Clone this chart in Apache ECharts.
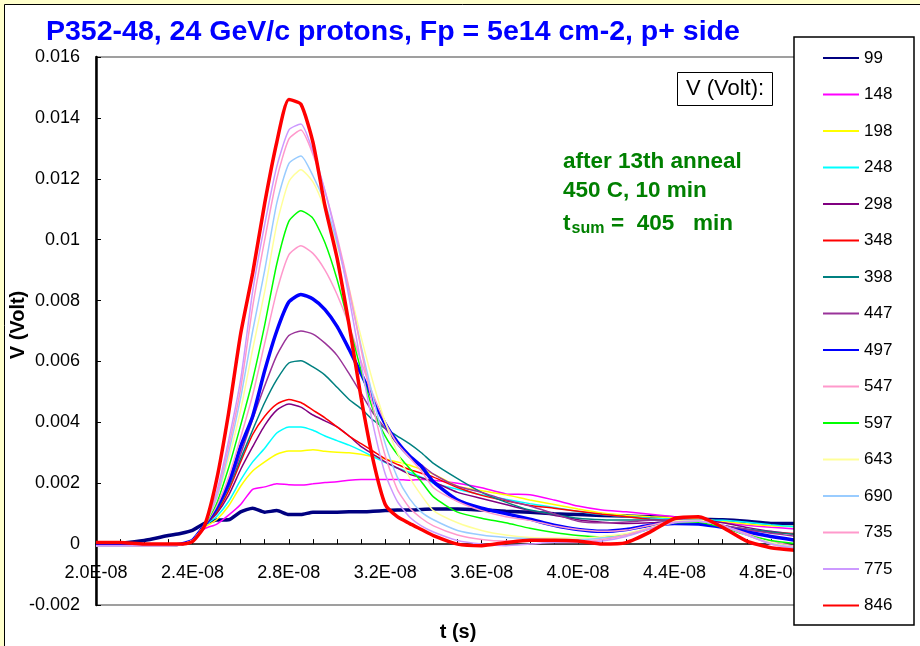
<!DOCTYPE html>
<html>
<head>
<meta charset="utf-8">
<script src="https://cdn.jsdelivr.net/npm/echarts@6/dist/echarts.min.js"></script>
<style>
html,body{margin:0;padding:0;background:#FFFFCC;}
#chart{width:920px;height:646px;}
</style>
</head>
<body>
<div id="chart"></div>
<script>
// time in ns (axis labels shown in seconds, e.g. 2.0E-08)
const timeNs = [20,21,22,23,23.5,24,24.5,25,25.5,26,26.5,27,27.5,28,28.5,29,29.5,30,30.5,31,31.5,32,32.5,33,33.5,34,35,36,37,38,39,40,41,42,43,44,45,46,47,48,49];

// legend labels (bias voltage)
const seriesNames = ['99','148','198','248','298','348','398','447','497','547','597','643','690','735','775','846'];

// signal values in mV (converted to V for the axis)
const v99  = [-0.03,0.03,0.12,0.28,0.35,0.45,0.68,0.79,0.8,1.06,1.18,1.05,1.1,0.97,0.97,1.05,1.05,1.05,1.06,1.06,1.08,1.1,1.12,1.12,1.14,1.15,1.15,1.12,1.08,1.05,1.0,0.97,0.94,0.92,0.9,0.87,0.82,0.8,0.75,0.68,0.68];
const v148 = [-0.05,-0.05,-0.05,-0.05,-0.03,0.1,0.5,0.65,0.95,1.3,1.8,1.88,1.98,1.95,1.94,1.98,2.02,2.05,2.1,2.12,2.12,2.12,2.12,2.1,2.12,2.1,2.0,1.85,1.65,1.62,1.45,1.25,1.12,1.06,0.98,0.9,0.83,0.72,0.62,0.55,0.5];
const v198 = [-0.03,-0.03,-0.03,-0.03,-0.02,0.1,0.55,0.8,1.25,1.9,2.4,2.7,2.95,3.06,3.06,3.1,3.05,3.02,3.0,2.95,2.87,2.8,2.7,2.6,2.45,2.3,1.9,1.75,1.62,1.45,1.3,1.15,1.02,0.95,0.9,0.86,0.82,0.75,0.66,0.6,0.57];
const v248 = [-0.05,-0.05,-0.05,-0.03,-0.02,0.12,0.6,0.9,1.4,2.1,2.7,3.15,3.65,3.85,3.85,3.74,3.55,3.4,3.25,3.07,2.87,2.68,2.5,2.36,2.2,2.0,1.8,1.62,1.47,1.33,1.2,1.07,0.97,0.9,0.85,0.82,0.8,0.78,0.72,0.64,0.57];
const v298 = [-0.03,-0.03,-0.03,-0.03,0.0,0.12,0.62,1.0,1.6,2.45,3.2,3.9,4.4,4.6,4.5,4.24,4.05,3.85,3.55,3.2,2.95,2.7,2.5,2.3,2.18,2.05,1.7,1.5,1.3,1.1,0.95,0.8,0.72,0.68,0.7,0.76,0.78,0.7,0.55,0.42,0.32];
const v348 = [0.0,-0.03,-0.03,-0.03,0.0,0.12,0.62,1.05,1.75,2.7,3.6,4.2,4.6,4.75,4.65,4.4,4.15,3.85,3.55,3.3,3.05,2.8,2.62,2.45,2.33,2.2,1.86,1.6,1.42,1.27,1.18,1.08,0.98,0.9,0.82,0.76,0.7,0.6,0.48,0.38,0.35];
const v398 = [-0.03,-0.03,-0.03,-0.03,0.0,0.12,0.62,1.1,1.85,2.8,3.75,4.65,5.4,5.95,6.02,5.82,5.55,5.15,4.75,4.45,4.07,3.8,3.55,3.3,3.0,2.65,2.15,1.7,1.38,1.12,0.98,0.85,0.8,0.79,0.79,0.76,0.72,0.6,0.5,0.4,0.32];
const v447 = [-0.03,-0.03,-0.03,-0.03,0.0,0.12,0.62,1.15,1.9,2.95,4.1,5.2,6.2,6.85,7.0,6.9,6.6,6.2,5.6,4.95,4.3,3.8,3.3,2.9,2.6,2.3,1.9,1.7,1.45,1.25,1.0,0.75,0.7,0.73,0.78,0.8,0.76,0.62,0.48,0.36,0.26];
const v497 = [-0.03,-0.03,-0.03,-0.03,0.0,0.12,0.62,1.2,2.0,3.2,4.2,5.7,7.0,7.95,8.2,8.05,7.7,7.15,6.4,5.6,4.75,3.95,3.35,2.9,2.55,2.05,1.45,1.18,1.0,0.82,0.62,0.48,0.42,0.48,0.62,0.68,0.66,0.55,0.4,0.25,0.13];
const v547 = [-0.05,-0.05,-0.05,-0.05,-0.02,0.12,0.62,1.25,2.2,3.5,4.9,6.6,8.3,9.5,9.8,9.55,9.0,8.2,7.2,6.0,4.9,4.0,3.3,2.85,2.4,1.85,1.4,1.1,0.9,0.78,0.6,0.48,0.42,0.46,0.62,0.76,0.76,0.6,0.35,0.1,-0.08];
const v597 = [-0.05,-0.05,-0.05,-0.05,-0.02,0.12,0.62,1.35,2.5,3.9,5.4,7.2,9.2,10.6,10.95,10.7,9.9,8.7,7.2,5.7,4.4,3.55,2.95,2.5,2.05,1.55,1.05,0.85,0.7,0.52,0.38,0.28,0.24,0.3,0.5,0.7,0.72,0.55,0.3,0.12,0.02];
const v643 = [-0.05,-0.05,-0.05,-0.05,-0.02,0.12,0.62,1.45,2.8,4.4,6.4,8.3,10.5,11.9,12.3,11.9,11.0,9.8,8.4,6.8,5.3,4.0,3.0,2.2,1.6,1.1,0.7,0.45,0.3,0.22,0.2,0.2,0.25,0.35,0.55,0.75,0.78,0.6,0.3,0.05,-0.12];
const v690 = [-0.05,-0.05,-0.05,-0.05,-0.02,0.12,0.62,1.5,3.0,4.8,7.0,9.0,11.2,12.5,12.75,12.1,11.2,9.9,8.3,6.5,4.8,3.3,2.2,1.5,1.05,0.8,0.45,0.3,0.22,0.18,0.15,0.15,0.2,0.3,0.52,0.72,0.75,0.6,0.3,0.02,-0.12];
const v735 = [-0.05,-0.05,-0.05,-0.05,-0.02,0.12,0.62,1.6,3.2,5.1,7.8,10.0,12.0,13.3,13.6,12.8,11.6,10.1,8.4,6.4,4.5,2.9,1.8,1.2,0.85,0.6,0.3,0.15,0.1,0.1,0.1,0.1,0.15,0.3,0.52,0.72,0.75,0.6,0.3,0.0,-0.15];
const v775 = [-0.05,-0.05,-0.05,-0.05,-0.02,0.12,0.62,1.7,3.4,5.4,8.3,10.5,12.4,13.6,13.8,12.9,11.6,10.0,8.1,5.9,3.9,2.3,1.4,0.9,0.6,0.4,0.12,0.0,-0.05,0.0,0.05,0.05,0.1,0.25,0.5,0.7,0.75,0.6,0.3,0.0,-0.15];
const v846 = [0.05,0.05,0.0,0.0,0.0,0.08,0.6,2.1,4.3,6.9,8.9,11.2,13.2,14.6,14.45,13.2,11.1,9.4,7.2,4.8,2.75,1.3,0.9,0.68,0.48,0.28,0.0,-0.05,0.05,0.13,0.13,0.1,0.0,0.05,0.4,0.84,0.9,0.55,0.1,-0.12,-0.2];

const seriesValues = [v99,v148,v198,v248,v298,v348,v398,v447,v497,v547,v597,v643,v690,v735,v775,v846];

// styles
const seriesColors = ['#000080','#FF00FF','#FFFF00','#00FFFF','#800080','#FF0000','#008080','#993399','#0000FF','#FF99CC','#00FF00','#FFFF99','#99CCFF','#FF99CC','#CC99FF','#FF0000'];
const seriesWidths = [3.5,1.5,1.5,1.5,1.5,1.5,1.5,1.5,3.5,1.5,1.5,1.5,1.5,1.5,1.5,3.5];

const FONT = '"Liberation Sans", Arial, Helvetica, sans-serif';

const chart = echarts.init(document.getElementById('chart'), null, {renderer:'canvas'});

const series = seriesNames.map((name, k) => ({
  name: name,
  type: 'line',
  symbol: 'none',
  smooth: 0.2,
  z: 2 + k * 0.01,
  lineStyle: {color: seriesColors[k], width: seriesWidths[k]},
  itemStyle: {color: seriesColors[k]},
  data: timeNs.map((t, i) => [t, seriesValues[k][i] / 1000])
}));

chart.setOption({
  animation: false,
  backgroundColor: '#FFFFCC',
  textStyle: {fontFamily: FONT},
  title: {
    text: 'P352-48, 24 GeV/c protons, Fp = 5e14 cm-2, p+ side',
    left: 41, top: 13,
    textStyle: {color: '#0000FF', fontSize: 28.5, fontWeight: 'bold', fontFamily: FONT}
  },
  grid: {left: 96, top: 57, right: 125, bottom: 41, show: true, borderColor: '#808080', borderWidth: 1.5, backgroundColor: '#FFFFFF'},
  xAxis: {
    type: 'value', min: 20, max: 49, interval: 1,
    axisLine: {onZero: true, lineStyle: {color: '#000', width: 1.5}},
    axisTick: {show: true, inside: true, length: 5, lineStyle: {color: '#000', width: 1}},
    splitLine: {show: false},
    axisLabel: {
      fontSize: 18, color: '#000', margin: -41, fontFamily: FONT,
      showMaxLabel: false,
      formatter: v => ((Math.round(v) - 20) % 4 === 0 ? (v / 10).toFixed(1) + 'E-08' : '')
    }
  },
  yAxis: {
    type: 'value', min: -0.002, max: 0.016, interval: 0.002,
    axisLine: {show: true, onZero: false, lineStyle: {color: '#000', width: 2.5}},
    axisTick: {show: true, inside: true, length: 5, lineStyle: {color: '#000', width: 1}},
    splitLine: {show: false},
    axisLabel: {
      fontSize: 18, color: '#000', margin: 16, fontFamily: FONT,
      formatter: v => (Math.abs(v) < 1e-9 ? '0' : String(+v.toFixed(3)))
    }
  },
  legend: {
    data: seriesNames,
    orient: 'vertical',
    left: 817, top: 43,
    itemWidth: 36, itemHeight: 14, itemGap: 16.5,
    selectedMode: false,
    itemStyle: {opacity: 0},
    textStyle: {fontSize: 17, color: '#000', fontFamily: FONT, lineHeight: 20},
    z: 10
  },
  graphic: [
    {type: 'rect', z: -100, silent: true, shape: {x: 4.5, y: 4.5, width: 940, height: 660}, style: {fill: '#FFFFFF', stroke: '#000000', lineWidth: 1}},
    {type: 'rect', z: 8, silent: true, shape: {x: 794, y: 37, width: 120, height: 588}, style: {fill: '#FFFFFF', stroke: '#000000', lineWidth: 1.5}},
    {type: 'rect', z: 8, silent: true, shape: {x: 677.5, y: 72.5, width: 95, height: 33}, style: {fill: '#FFFFFF', stroke: '#000000', lineWidth: 1}},
    {type: 'text', z: 9, silent: true, style: {x: 725, y: 89, text: 'V (Volt):', fill: '#000', font: '22px ' + FONT, textAlign: 'center', textVerticalAlign: 'middle'}},
    {type: 'text', z: 9, silent: true, style: {x: 563, y: 162, text: 'after 13th anneal', fill: '#008000', font: 'bold 22.5px ' + FONT, textAlign: 'left', textVerticalAlign: 'middle'}},
    {type: 'text', z: 9, silent: true, style: {x: 563, y: 190.5, text: '450 C, 10 min', fill: '#008000', font: 'bold 22.5px ' + FONT, textAlign: 'left', textVerticalAlign: 'middle'}},
    {type: 'text', z: 9, silent: true, style: {x: 563, y: 224, text: 't', fill: '#008000', font: 'bold 22.5px ' + FONT, textAlign: 'left', textVerticalAlign: 'middle'}},
    {type: 'text', z: 9, silent: true, style: {x: 571.5, y: 229, text: 'sum', fill: '#008000', font: 'bold 16px ' + FONT, textAlign: 'left', textVerticalAlign: 'middle'}},
    {type: 'text', z: 9, silent: true, style: {x: 611, y: 224, text: '=  405   min', fill: '#008000', font: 'bold 22.5px ' + FONT, textAlign: 'left', textVerticalAlign: 'middle'}},
    {type: 'text', z: 9, silent: true, style: {x: 458, y: 632, text: 't (s)', fill: '#000', font: 'bold 20px ' + FONT, textAlign: 'center', textVerticalAlign: 'middle'}},
    {type: 'text', z: 9, silent: true, rotation: Math.PI / 2, x: 18, y: 325, style: {x: 0, y: 0, text: 'V (Volt)', fill: '#000', font: 'bold 20px ' + FONT, textAlign: 'center', textVerticalAlign: 'middle'}}
  ],
  series: series
});
</script>
</body>
</html>
